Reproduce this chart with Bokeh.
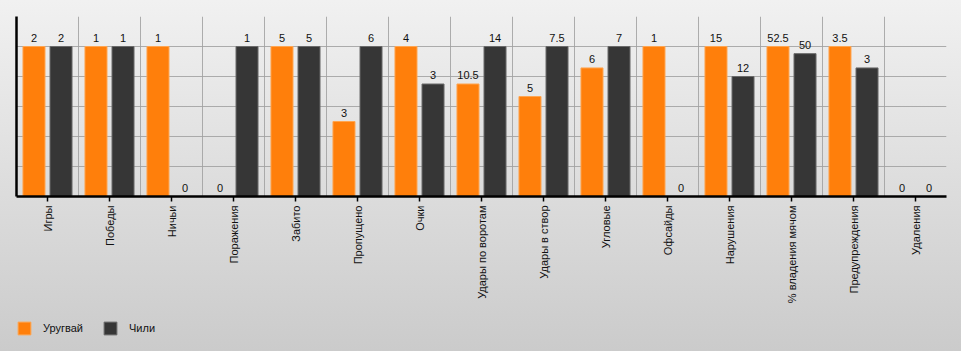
import math
from bokeh.plotting import figure
from bokeh.layouts import column
from bokeh.models import (ColumnDataSource, FactorRange, Range1d, FixedTicker,
                          Legend, LegendItem, LabelSet)
from bokeh.core.properties import value
from bokeh.transform import dodge
from bokeh.embed import file_html
from bokeh.resources import INLINE

categories = ["Игры", "Победы", "Ничьи", "Поражения", "Забито", "Пропущено", "Очки",
              "Удары по воротам", "Удары в створ", "Угловые", "Офсайды", "Нарушения",
              "% владения мячом", "Предупреждения", "Удаления"]
uruguay = [2, 1, 1, 0, 5, 3, 4, 10.5, 5, 6, 1, 15, 52.5, 3.5, 0]
chile = [2, 1, 0, 1, 5, 6, 3, 14, 7.5, 7, 0, 12, 50, 3, 0]
series_names = ["Уругвай", "Чили"]
colors = ["#ff7f0b", "#363636"]
outlines = ["#ffa550", "#6a6a6a"]

def fmt(v):
    return str(int(v)) if float(v).is_integer() else str(v)

mx = [max(a, b) for a, b in zip(uruguay, chile)]
u_norm = [a / m if m > 0 else 0 for a, m in zip(uruguay, mx)]
c_norm = [b / m if m > 0 else 0 for b, m in zip(chile, mx)]

src = ColumnDataSource(dict(
    cat=categories, u=u_norm, c=c_norm,
    ul=[fmt(v) for v in uruguay], cl=[fmt(v) for v in chile],
))

FONT = "Liberation Sans"

p = figure(width=961, height=311,
           x_range=FactorRange(*categories, range_padding=0),
           y_range=Range1d(0, 1.2), output_backend="svg", toolbar_location=None,
           min_border_left=16, min_border_right=15, min_border_top=16, min_border_bottom=115)
p.x_range.range_padding = 0
p.background_fill_alpha = 0
p.border_fill_alpha = 0
p.outline_line_color = None

r1 = p.vbar(x=dodge("cat", -0.218, range=p.x_range), top="u", width=0.355, source=src,
            fill_color=colors[0], line_color=outlines[0], line_width=1)
r2 = p.vbar(x=dodge("cat", 0.218, range=p.x_range), top="c", width=0.355, source=src,
            fill_color=colors[1], line_color=outlines[1], line_width=1)

for off, col, lab in [(-0.218, "u", "ul"), (0.218, "c", "cl")]:
    ls = LabelSet(x=dodge("cat", off, range=p.x_range), y=col, text=lab, source=src,
                  text_align="center", text_baseline="bottom", y_offset=5,
                  text_font=value(FONT), text_font_size=value("11px"), text_color="#111111")
    p.add_layout(ls)

p.xgrid.ticker = FixedTicker(ticks=list(range(len(categories) + 1)))
p.ygrid.ticker = FixedTicker(ticks=[0.2, 0.4, 0.6, 0.8, 1.0, 1.2])
for g in (p.xgrid, p.ygrid):
    g.grid_line_color = "#a0a0a0"
    g.grid_line_width = 1
    g.grid_line_alpha = 0.85

xa = p.xaxis[0]
xa.axis_line_color = "black"
xa.axis_line_width = 2.5
xa.major_tick_out = 5
xa.major_tick_in = 0
xa.major_tick_line_color = "black"
xa.major_tick_line_width = 1.5
xa.minor_tick_line_color = None
xa.major_label_orientation = math.pi / 2
xa.major_label_text_font = FONT
xa.major_label_text_font_size = "11px"
xa.major_label_text_color = "#111111"
xa.major_label_standoff = 4
xa.group_text_font_size = "0px"

ya = p.yaxis[0]
ya.axis_line_color = "black"
ya.axis_line_width = 2.5
ya.major_tick_line_color = None
ya.minor_tick_line_color = None
ya.major_label_text_font_size = "0px"
ya.major_label_text_color = None

# legend strip (bars drawn from the same data but outside this strip's visible range)
q = figure(width=961, height=40, x_range=FactorRange(*categories, range_padding=0),
           y_range=Range1d(5, 6), output_backend="svg", toolbar_location=None,
           min_border_left=3, min_border_right=0, min_border_top=9, min_border_bottom=0)
q.background_fill_alpha = 0
q.border_fill_alpha = 0
q.outline_line_color = None
q.axis.visible = False
q.grid.visible = False
lr1 = q.vbar(x="cat", top="u", width=0.3, source=src,
             fill_color=colors[0], line_color=outlines[0])
lr2 = q.vbar(x="cat", top="c", width=0.3, source=src,
             fill_color=colors[1], line_color=outlines[1])
legend = Legend(items=[LegendItem(label=series_names[0], renderers=[lr1], index=0),
                       LegendItem(label=series_names[1], renderers=[lr2], index=0)],
                orientation="horizontal", location="top_left",
                glyph_width=16, glyph_height=16, label_standoff=11, spacing=19,
                padding=0, margin=0, border_line_color=None, background_fill_alpha=0,
                label_text_font=FONT, label_text_font_size="11px", label_text_color="#111111")
q.add_layout(legend, "center")

layout = column(p, q, spacing=0,
                styles={"background-image": "linear-gradient(to bottom, #f1f1f1 0%, #cbcbcb 100%)"})

open("out.html", "w").write(file_html(layout, INLINE))
